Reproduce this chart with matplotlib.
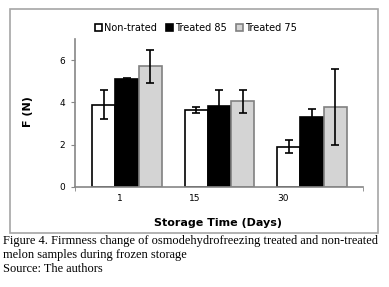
import matplotlib
matplotlib.use("Agg")
import matplotlib.pyplot as plt
from matplotlib.patches import Rectangle
import numpy as np

days = ["1", "15", "30"]
series = ["Non-trated", "Treated 85", "Treated 75"]
non_trated = [3.9, 3.65, 1.9]
non_trated_err = [0.7, 0.15, 0.3]
treated_85 = [5.1, 3.85, 3.3]
treated_85_err = [0.05, 0.75, 0.4]
treated_75 = [5.7, 4.05, 3.8]
treated_75_err = [0.8, 0.55, 1.8]

W, H = 389, 287
fig = plt.figure(figsize=(W / 100, H / 100), dpi=100)
fig.patch.set_facecolor("white")

# outer chart frame
fig.patches.append(Rectangle((10 / W, 1 - 233 / H), 368 / W, 224 / H,
                             transform=fig.transFigure, fill=False,
                             edgecolor="#a6a6a6", lw=1.2))

ax = fig.add_axes([75 / W, 1 - 187 / H, 288 / W, 148 / H])
x = np.arange(len(days))
bw = 0.25
fills = ["white", "black", "#d4d4d4"]
edges = ["black", "black", "#808080"]
vals = [non_trated, treated_85, treated_75]
errs = [non_trated_err, treated_85_err, treated_75_err]
handles = []
for i in range(3):
    b = ax.bar(x + (i - 1) * bw, vals[i], bw, color=fills[i], edgecolor=edges[i],
               lw=1.2, label=series[i], zorder=2)
    ax.errorbar(x + (i - 1) * bw, vals[i], yerr=errs[i], fmt="none",
                ecolor="black", elinewidth=1.2, capsize=3, capthick=1.2, zorder=3)
    handles.append(b)

ax.set_xlim(-0.562, 2.552)
ax.set_ylim(0, 7)
ax.set_yticks([0, 2, 4, 6])
ax.tick_params(axis="y", labelsize=6.5, length=3, color="#868686", pad=4)
# category labels sit a little left of each group, as in the original
ax.set_xticks([-0.076, 0.735, 1.687])
ax.set_xticklabels(days)
ax.tick_params(axis="x", labelsize=6.5, length=0, pad=5)
ax.set_xticks([-0.562, 2.552], minor=True)
ax.tick_params(axis="x", which="minor", length=3, color="#868686")
for s in ["top", "right"]:
    ax.spines[s].set_visible(False)
for s in ["left", "bottom"]:
    ax.spines[s].set_color("#868686")
    ax.spines[s].set_linewidth(1.2)

fig.text(28 / W, 1 - 112 / H, "F (N)", rotation=90, ha="center", va="center",
         fontsize=8, fontweight="bold")
fig.text(218 / W, 1 - 223 / H, "Storage Time (Days)", ha="center", va="center",
         fontsize=8, fontweight="bold")

fig.legend(handles, series, loc="center", bbox_to_anchor=(196 / W, 1 - 28 / H),
           ncol=3, frameon=False, fontsize=7, handlelength=0.7, handleheight=0.7,
           handletextpad=0.2, columnspacing=1.0)

cap = ("Figure 4. Firmness change of osmodehydrofreezing treated and non-treated\n"
       "melon samples during frozen storage\n"
       "Source: The authors")
fig.text(3 / W, 1 - 235 / H, cap, ha="left", va="top", fontsize=8.9,
         family="Liberation Serif", linespacing=1.2)

fig.savefig("out.png", dpi=100)
